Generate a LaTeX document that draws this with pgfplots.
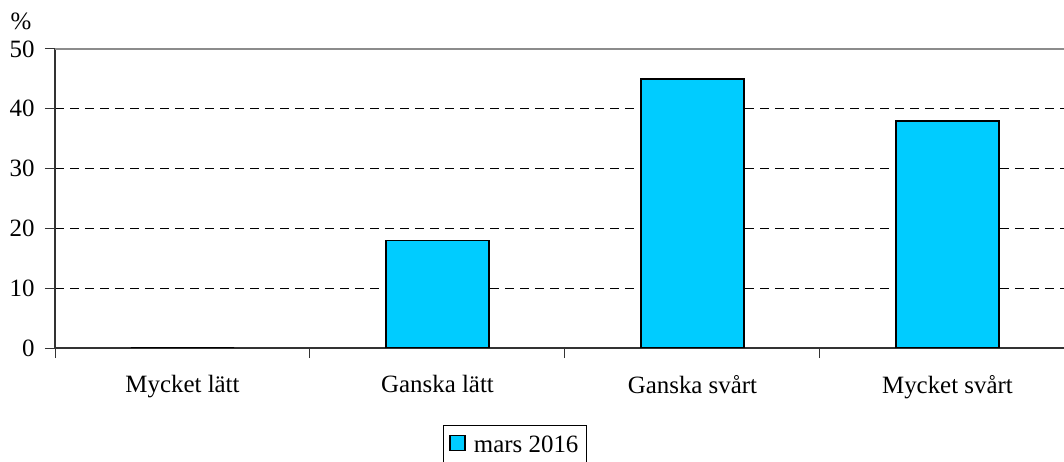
\documentclass[border=0pt]{standalone}
\usepackage{fontspec}
\setmainfont{Liberation Serif}
\usepackage{pgfplots}
\pgfplotsset{compat=1.18}
\definecolor{barcol}{HTML}{00CCFF}
\definecolor{axgray}{HTML}{8C8C8C}
\begin{document}
\begin{tikzpicture}[font=\fontsize{25}{29}\selectfont]
\clip (0bp,0bp) rectangle (1064bp,462bp);
\begin{axis}[
  at={(55bp,114bp)}, anchor=south west,
  scale only axis, width=1009bp, height=299bp,
  xmin=-0.5, xmax=3.457, ymin=0, ymax=50,
  /pgf/number format/assume math mode=true,
  ytick={0,10,...,50},
  yticklabel style={xshift=-7bp},
  xtick={-0.5,0.5,1.5,2.5}, xticklabels={},
  extra x ticks={0,1,2,3},
  extra x tick labels={Mycket lätt, Ganska lätt, Ganska svårt, Mycket svårt},
  extra x tick style={major tick length=0pt, xticklabel style={yshift=-24bp}},
  tick align=outside, major tick length=10bp,
  tick style={black!80, line width=1bp},
  axis lines*=left,
  axis line style={draw=black!80, line width=1.3bp},
  ymajorgrids, grid style={black, line width=0.9bp, dash pattern=on 9bp off 6bp},
  tick label style={font=\fontsize{25}{29}\selectfont},
  ylabel={\%},
  every axis y label/.style={at={(axis description cs:-0.0337,1.094)}, anchor=center},
  legend style={at={(0.3845,-0.2575)}, anchor=north west, draw=black, line width=1bp,
    font=\fontsize{25}{29}\selectfont, inner xsep=6bp, inner ysep=8bp},
  legend image code/.code={\draw[#1, draw=black, line width=1.5bp] (0bp,-6bp) rectangle (15bp,9bp); \path (21bp,0bp);},
  bar width=0.404,
]
\addplot[ybar, fill=barcol, draw=black, line width=1.5bp] coordinates {(0,0) (1,18) (2,45) (3,38)};
\addlegendentry{mars 2016}
\draw[axgray, line width=2bp] (rel axis cs:0,1) -- (rel axis cs:1,1);
\end{axis}
\end{tikzpicture}
\end{document}
